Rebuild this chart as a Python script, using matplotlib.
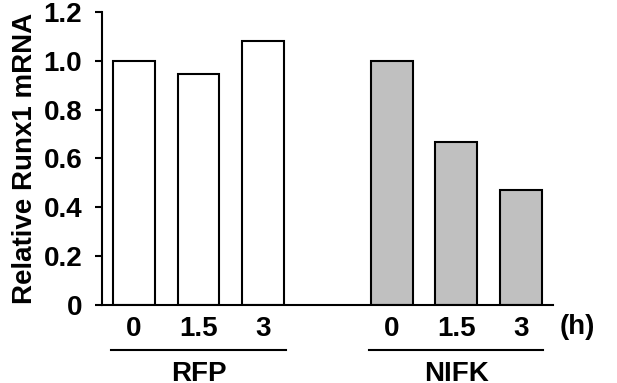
import matplotlib
matplotlib.use("Agg")
import matplotlib.pyplot as plt

# data
groups = ["RFP", "NIFK"]
times = ["0", "1.5", "3"]
rfp = [1.00, 0.945, 1.08]
nifk = [1.00, 0.665, 0.47]
yticks = [0, 0.2, 0.4, 0.6, 0.8, 1.0, 1.2]
ytick_labels = ["0", "0.2", "0.4", "0.6", "0.8", "1.0", "1.2"]

plt.rcParams["font.family"] = ["Liberation Sans", "DejaVu Sans"]
plt.rcParams["font.weight"] = "bold"

fig = plt.figure(figsize=(6.17, 3.83), dpi=100)
ax = fig.add_axes([0.165, 0.204, 0.731, 0.765])

width = 0.65
x_rfp = [0, 1, 2]
x_nifk = [4, 5, 6]
ax.bar(x_rfp, rfp, width, color="white", edgecolor="black", linewidth=1.5)
ax.bar(x_nifk, nifk, width, color="#c0c0c0", edgecolor="black", linewidth=1.5)

ax.set_xlim(-0.5, 6.5)
ax.set_ylim(0, 1.2)
ax.set_yticks(yticks)
ax.set_yticklabels(ytick_labels, fontsize=20, fontweight="bold")
ax.set_xticks(x_rfp + x_nifk)
ax.set_xticklabels(times + times, fontsize=20, fontweight="bold")
ax.tick_params(axis="x", length=0, pad=8)
ax.tick_params(axis="y", length=5, width=1.5, pad=9)

for s in ["top", "right"]:
    ax.spines[s].set_visible(False)
for s in ["left", "bottom"]:
    ax.spines[s].set_linewidth(1.5)

ax.set_ylabel("Relative Runx1 mRNA", fontsize=20, fontweight="bold", labelpad=4)

trans = ax.get_xaxis_transform()
ax.text(6.88, -0.077, "(h)", transform=trans, ha="center", va="center",
        fontsize=20, fontweight="bold")

for xs, name in [(x_rfp, groups[0]), (x_nifk, groups[1])]:
    x0 = xs[0] - width / 2 - 0.03
    x1 = xs[-1] + width / 2 + 0.03
    ax.plot([x0, x1], [-0.154, -0.154], color="black", lw=1.5,
            transform=trans, clip_on=False)
    ax.text((x0 + x1) / 2, -0.235, name, transform=trans, ha="center",
            va="center", fontsize=20, fontweight="bold")

fig.savefig("out.png", dpi=100)
